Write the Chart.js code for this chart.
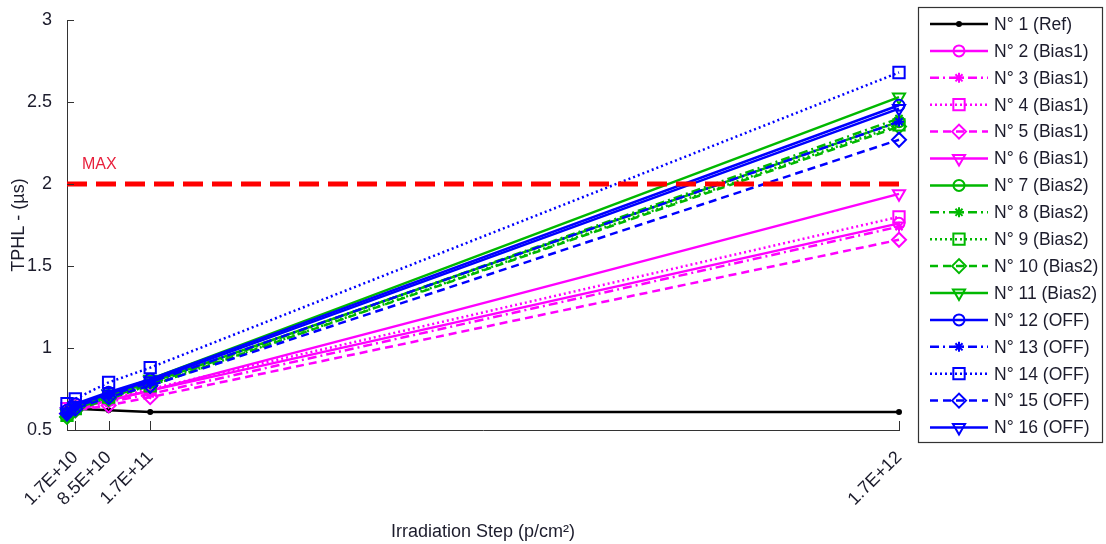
<!DOCTYPE html>
<html>
<head>
<meta charset="utf-8">
<script src="https://cdn.jsdelivr.net/npm/chart.js@4.4.0/dist/chart.umd.min.js"></script>
<style>
html, body { margin: 0; padding: 0; background: #fff; }
</style>
</head>
<body>
<canvas id="myChart" width="1106" height="544"></canvas>
<script>
// irradiation steps (p/cm2), first one is the pre-irradiation measure
var steps = [0, 1.7e10, 8.5e10, 1.7e11, 1.7e12];
var tickValues = [1.7e10, 8.5e10, 1.7e11, 1.7e12];
var tickLabels = ['1.7E+10', '8.5E+10', '1.7E+11', '1.7E+12'];
var yTicks = [0.5, 1, 1.5, 2, 2.5, 3];
var maxLimit = 2;

var names = ['N° 1 (Ref)', 'N° 2 (Bias1)', 'N° 3 (Bias1)', 'N° 4 (Bias1)', 'N° 5 (Bias1)', 'N° 6 (Bias1)',
             'N° 7 (Bias2)', 'N° 8 (Bias2)', 'N° 9 (Bias2)', 'N° 10 (Bias2)', 'N° 11 (Bias2)',
             'N° 12 (OFF)', 'N° 13 (OFF)', 'N° 14 (OFF)', 'N° 15 (OFF)', 'N° 16 (OFF)'];

// TPHL (us) per device
var n1  = [0.63, 0.63, 0.62, 0.61, 0.61];
var n2  = [0.62, 0.64, 0.68, 0.74, 1.76];
var n3  = [0.60, 0.62, 0.67, 0.72, 1.74];
var n4  = [0.63, 0.65, 0.69, 0.75, 1.80];
var n5  = [0.60, 0.62, 0.65, 0.70, 1.66];
var n6  = [0.61, 0.63, 0.68, 0.74, 1.94];
var n7  = [0.60, 0.64, 0.71, 0.79, 2.38];
var n8  = [0.58, 0.63, 0.70, 0.78, 2.40];
var n9  = [0.59, 0.63, 0.70, 0.77, 2.36];
var n10 = [0.58, 0.62, 0.69, 0.77, 2.35];
var n11 = [0.60, 0.65, 0.72, 0.81, 2.53];
var n12 = [0.62, 0.66, 0.73, 0.81, 2.48];
var n13 = [0.60, 0.64, 0.71, 0.79, 2.38];
var n14 = [0.66, 0.69, 0.79, 0.88, 2.68];
var n15 = [0.60, 0.63, 0.70, 0.77, 2.27];
var n16 = [0.61, 0.65, 0.72, 0.80, 2.46];
var series = [n1, n2, n3, n4, n5, n6, n7, n8, n9, n10, n11, n12, n13, n14, n15, n16];

// styles
var MAG = '#ff00ff', GRN = '#00b800', BLU = '#0000ff';
var colors = ['#000000', MAG, MAG, MAG, MAG, MAG, GRN, GRN, GRN, GRN, GRN, BLU, BLU, BLU, BLU, BLU];
var solid = [], dashDot = [9, 4, 2, 4], dotted = [2, 3], dashed = [8, 5];
var dashes = [solid, solid, dashDot, dotted, dashed, solid, solid, dashDot, dotted, dashed, solid, solid, dashDot, dotted, dashed, solid];
var markers = ['circle', 'circle', 'star', 'rect', 'rectRot', 'triangle', 'circle', 'star', 'rect', 'rectRot', 'triangle', 'circle', 'star', 'rect', 'rectRot', 'triangle'];
var sizes = { circle: 5.5, star: 5, rect: 8, rectRot: 7, triangle: 7 };

var FONT = '"Liberation Sans", Arial, sans-serif';
var TEXT = '#1c1c2c';

var datasets = series.map(function(vals, i) {
    var ps = markers[i];
    return {
        label: names[i],
        data: steps.map(function(s, k) { return { x: s, y: vals[k] }; }),
        borderColor: colors[i],
        backgroundColor: i === 0 ? '#000' : 'rgba(0,0,0,0)',
        borderWidth: 2.5,
        borderDash: dashes[i],
        pointStyle: ps,
        pointRotation: ps === 'triangle' ? 180 : 0,
        pointRadius: i === 0 ? 2 : sizes[ps],
        pointBorderWidth: 2,
        pointBorderColor: colors[i],
        pointBackgroundColor: i === 0 ? '#000' : 'rgba(0,0,0,0)',
        clip: false,
        order: -i
    };
});

datasets.push({
    label: 'MAX',
    data: [{ x: 0, y: maxLimit }, { x: 1.7e12, y: maxLimit }],
    borderColor: '#ff0000',
    borderWidth: 5,
    borderDash: [20, 9],
    pointRadius: 0,
    clip: false,
    order: -30
});

function marker(ctx, style, x, y, r, rot, fill) {
    if (Chart.helpers && Chart.helpers.drawPoint) {
        Chart.helpers.drawPoint(ctx, { pointStyle: style, radius: r, rotation: rot, borderWidth: 2 }, x, y);
        return;
    }
    ctx.beginPath();
    ctx.arc(x, y, r, 0, Math.PI * 2);
    if (fill) ctx.fill();
    ctx.stroke();
}

var extras = {
    id: 'extras',
    afterDraw: function(chart) {
        var ctx = chart.ctx, xs = chart.scales.x, ys = chart.scales.y;
        ctx.save();
        // inward tick marks
        ctx.strokeStyle = '#333';
        ctx.lineWidth = 1;
        ctx.setLineDash([]);
        yTicks.forEach(function(v) {
            var py = Math.round(ys.getPixelForValue(v)) + 0.5;
            ctx.beginPath();
            ctx.moveTo(xs.left, py);
            ctx.lineTo(xs.left + 7, py);
            ctx.stroke();
        });
        tickValues.forEach(function(v) {
            var px = Math.round(xs.getPixelForValue(v)) + 0.5;
            ctx.beginPath();
            ctx.moveTo(px, ys.bottom);
            ctx.lineTo(px, ys.bottom - 9);
            ctx.stroke();
        });

        // MAX label
        ctx.fillStyle = '#e8203c';
        ctx.font = '16px ' + FONT;
        ctx.textBaseline = 'alphabetic';
        ctx.fillText('MAX', xs.getPixelForValue(0) + 15, ys.getPixelForValue(maxLimit) - 15);

        // legend box
        var bx = 918.5, by = 7.5, bw = 184, bh = 435;
        ctx.fillStyle = '#fff';
        ctx.fillRect(bx, by, bw, bh);
        ctx.strokeStyle = '#333';
        ctx.lineWidth = 1.2;
        ctx.strokeRect(bx, by, bw, bh);

        ctx.font = '17.5px ' + FONT;
        ctx.textBaseline = 'middle';
        for (var i = 0; i < 16; i++) {
            var ds = chart.data.datasets[i];
            var ly = 24 + i * 26.9;
            ctx.strokeStyle = ds.borderColor;
            ctx.fillStyle = ds.pointBackgroundColor;
            ctx.lineWidth = 2.5;
            ctx.setLineDash(ds.borderDash);
            ctx.beginPath();
            ctx.moveTo(930, ly);
            ctx.lineTo(988, ly);
            ctx.stroke();
            ctx.setLineDash([]);
            ctx.lineWidth = 2;
            marker(ctx, ds.pointStyle, 959, ly, ds.pointRadius, ds.pointRotation, i === 0);
            ctx.fillStyle = TEXT;
            ctx.fillText(ds.label, 994, ly + 1);
        }
        ctx.restore();
    }
};

window.onload = function() {
    var ctx = document.getElementById('myChart').getContext('2d');
    var myChart = new Chart(ctx, {
        type: 'line',
        data: { datasets: datasets },
        plugins: [extras],
        options: {
            responsive: false,
            animation: false,
            devicePixelRatio: 1,
            layout: { padding: { top: 20, right: 207, left: 0, bottom: 0 } },
            plugins: { legend: { display: false }, tooltip: { enabled: false } },
            scales: {
                x: {
                    type: 'linear',
                    min: 0,
                    max: 1.7e12,
                    afterBuildTicks: function(scale) {
                        scale.ticks = tickValues.map(function(v) { return { value: v }; });
                    },
                    afterFit: function(scale) { scale.height = 114; },
                    grid: { display: false },
                    border: { display: true, color: '#333', width: 1 },
                    ticks: {
                        autoSkip: false,
                        minRotation: 45,
                        maxRotation: 45,
                        padding: 9,
                        color: TEXT,
                        font: { size: 18, family: FONT },
                        callback: function(v) {
                            var k = tickValues.indexOf(v);
                            return k >= 0 ? tickLabels[k] : '';
                        }
                    },
                    title: {
                        display: true,
                        text: 'Irradiation Step (p/cm²)',
                        color: TEXT,
                        font: { size: 18, family: FONT },
                        padding: { top: 0, bottom: 1 }
                    }
                },
                y: {
                    min: 0.5,
                    max: 3,
                    afterBuildTicks: function(scale) {
                        scale.ticks = yTicks.map(function(v) { return { value: v }; });
                    },
                    afterFit: function(scale) { scale.width = 67; },
                    grid: { display: false },
                    border: { display: true, color: '#333', width: 1 },
                    ticks: {
                        padding: 7,
                        color: TEXT,
                        font: { size: 18, family: FONT },
                        callback: function(v) { return String(v); }
                    },
                    title: {
                        display: true,
                        text: 'TPHL - (µs)',
                        color: TEXT,
                        font: { size: 18, family: FONT },
                        padding: { top: 8, bottom: 0 }
                    }
                }
            }
        }
    });
};
</script>
</body>
</html>
